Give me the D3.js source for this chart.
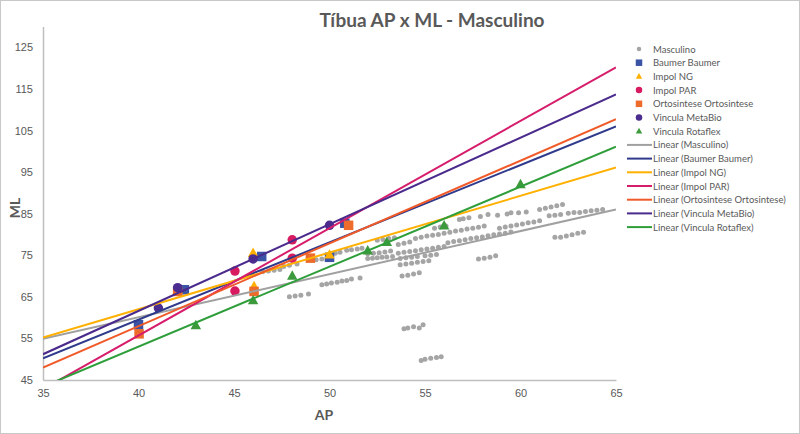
<!DOCTYPE html>
<html lang="pt">
<head>
<meta charset="UTF-8">
<title>Tíbua AP x ML - Masculino</title>
<style>
  body { margin: 0; background: #fff; }
  svg { display: block; font-family: Lato, "Open Sans", sans-serif; }
  .axis path { stroke: #bfbfbf; stroke-width: 1.5; }
  .axis text { fill: #595959; font-size: 11px; }
</style>
</head>
<body>
<div id="chart"></div>
<script src="https://d3js.org/d3.v7.min.js"></script>
<script>
// series names, in drawing order
const seriesNames = ['Masculino', 'Baumer Baumer', 'Impol NG', 'Impol PAR',
  'Ortosintese Ortosintese', 'Vincula MetaBio', 'Vincula Rotaflex'];

// Masculino (grey dots), [AP, ML]
const masculino = [
  [46.5,71.0],[46.8,71.2],[47.1,71.4],[47.4,71.6],
  [47.6,72.3],[47.9,72.6],[48.3,72.9],
  [47.9,65.0],[48.2,65.2],[48.5,65.4],[48.9,65.7],
  [49.3,73.9],[49.6,74.1],
  [49.6,67.9],[49.85,68.1],[50.1,68.3],[50.4,68.5],[50.65,68.8],[50.9,68.9],[51.15,69.3],[51.6,69.5],
  [50.3,75.5],[50.55,75.7],[50.9,76.2],[51.15,76.3],[51.45,76.5],[51.7,76.7],
  [52.0,74.2],[52.25,74.3],[52.5,74.4],[52.75,74.5],[53.0,74.6],[53.3,74.7],
  [52.0,75.3],[52.3,75.5],[52.6,75.6],[52.9,75.8],[53.2,76.0],
  [52.5,78.6],[52.8,78.8],[53.1,79.0],[53.4,79.2],
  [53.6,77.6],[53.9,77.9],[54.2,78.2],
  [53.7,72.7],[54.0,72.9],[54.3,73.1],[54.6,73.3],[54.9,73.5],[55.2,73.7],
  [53.8,70.0],[54.1,70.2],[54.4,70.5],[54.7,70.8],
  [53.9,57.3],[54.1,57.5],[54.4,57.8],[54.7,57.5],[54.9,58.3],
  [54.8,49.7],[55.0,50.0],[55.3,50.2],[55.6,50.4],[55.85,50.6],
  [53.6,75.5],[53.9,75.7],[54.2,75.9],[54.5,76.1],[54.8,76.3],[55.1,76.5],[55.4,76.7],[55.7,76.9],[56.0,77.1],
  [53.7,74.2],[54.0,74.4],[54.3,74.5],[54.6,74.7],[55.0,74.9],[55.3,75.0],[55.6,75.2],
  [54.5,79.0],[54.8,79.3],[55.1,79.6],[55.4,79.8],[55.7,80.0],[56.0,80.3],[56.3,80.5],[56.6,80.8],
  [56.9,81.0],[57.2,81.3],[57.5,81.5],[57.8,81.7],[58.1,82.0],
  [56.2,78.0],[56.5,78.3],[56.8,78.5],[57.1,78.7],[57.4,79.0],[57.7,79.2],[58.0,79.4],[58.3,79.7],
  [58.6,79.9],[58.9,80.1],[59.2,80.3],[59.5,80.6],
  [55.5,81.5],[55.8,81.8],[56.1,82.0],[56.8,83.6],[57.0,83.8],[57.3,84.0],[57.9,84.3],[58.3,84.8],
  [58.8,84.6],[59.3,84.9],[59.5,85.2],[59.9,85.2],[60.3,85.4],
  [58.9,81.5],[59.2,81.8],[59.5,82.0],[59.8,82.3],[60.1,82.5],[60.4,82.8],[60.7,83.0],[61.0,83.3],
  [57.8,74.1],[58.1,74.3],[58.4,74.5],[58.7,74.9],
  [61.0,86.0],[61.3,86.3],[61.6,86.6],[61.9,86.9],[62.2,87.2],
  [61.5,84.5],[61.8,84.6],[62.1,84.8],[62.5,85.1],[62.8,85.3],[63.1,85.3],[63.4,85.5],[63.7,85.7],[64.0,85.8],[64.3,86.0],
  [61.8,79.3],[62.1,79.3],[62.4,79.6],[62.7,79.9],[63.0,80.3],[63.3,80.5]
];
const baumer = [[40,58.3],[42.4,66.7],[46.45,74.7],[50,74.5],[50.8,82.7]];
const impolNG = [[42.05,66.5],[46,75.5],[46.05,67.5],[50,75.1]];
const impolPAR = [[45.05,71.2],[45.05,66.4],[48.05,78.7],[48.05,74.3]];
const ortosintese = [[40.03,56.1],[42.05,66.3],[46.05,66.3],[49,74.3],[51,82.2]];
const metaBio = [[41.04,62.3],[42.05,67.2],[46,74.1],[50,82.2]];
const rotaflex = [[43,58.1],[46,64.1],[48.05,70.0],[52,76.1],[53,78.1],[56,82.1],[60,92.0]];

// linear trendlines: ML at AP = 35 and at AP = 65
const trendAt35 = [54.9, 50.2, 55.2, 42.8, 48.0, 51.2, 43.4];
const trendAt65 = [86.0, 106.0, 96.1, 120.2, 107.7, 113.7, 101.1];

const xTicks = [35, 40, 45, 50, 55, 60, 65];
const yTicks = [45, 55, 65, 75, 85, 95, 105, 115, 125];

const markerColors = ['#a5a5a5', '#3a53a4', '#ffb000', '#d81b60', '#ed6b2b', '#4b2c8f', '#3c9a3c'];
const lineColors = ['#a0a0a0', '#2f3a8c', '#ffb000', '#d61d6b', '#f05a28', '#4a2a8c', '#2e9e3a'];
const shapes = ['circle', 'square', 'triangle', 'circle', 'square', 'circle', 'triangle'];
const allSeries = [masculino, baumer, impolNG, impolPAR, ortosintese, metaBio, rotaflex];

const W = 800, H = 434;
const svg = d3.select('#chart').append('svg').attr('width', W).attr('height', H);

svg.append('rect').attr('x', 0.5).attr('y', 0.5).attr('width', W - 1).attr('height', H - 1)
  .attr('fill', '#fff').attr('stroke', '#c8c8c8');

const x = d3.scaleLinear().domain([35, 65]).range([43, 616]);
const y = d3.scaleLinear().domain([45, 130]).range([380, 26.5]);

svg.append('text').attr('x', 432).attr('y', 27).attr('text-anchor', 'middle')
  .attr('fill', '#595959').attr('font-size', 19).attr('font-weight', 700)
  .text('Tíbua AP x ML - Masculino');

svg.append('defs').append('clipPath').attr('id', 'plot')
  .append('rect').attr('x', x(35)).attr('y', y(130))
  .attr('width', x(65) - x(35)).attr('height', y(45) - y(130));

svg.append('g').attr('class', 'axis')
  .attr('transform', `translate(0,${y(45)})`)
  .call(d3.axisBottom(x).tickValues(xTicks).tickSize(0).tickPadding(9));

svg.append('g').attr('class', 'axis')
  .attr('transform', `translate(${x(35)},0)`)
  .call(d3.axisLeft(y).tickValues(yTicks).tickSize(0).tickPadding(10));

svg.selectAll('.axis .domain').attr('stroke', '#bfbfbf');

svg.append('text').attr('x', 324).attr('y', 420).attr('text-anchor', 'middle')
  .attr('fill', '#595959').attr('font-size', 14).attr('font-weight', 700).text('AP');
svg.append('text').attr('transform', 'translate(20,208) rotate(-90)').attr('text-anchor', 'middle')
  .attr('fill', '#595959').attr('font-size', 14).attr('font-weight', 700).text('ML');

function drawMarker(g, shape, color, size, cx, cy) {
  if (shape === 'circle') {
    g.append('circle').attr('cx', cx).attr('cy', cy).attr('r', size / 2).attr('fill', color);
  } else if (shape === 'square') {
    g.append('rect').attr('x', cx - size / 2).attr('y', cy - size / 2)
      .attr('width', size).attr('height', size).attr('fill', color);
  } else {
    const h = size * 0.9;
    g.append('path')
      .attr('d', `M${cx},${cy - h * 0.6}L${cx + size / 2},${cy + h * 0.4}L${cx - size / 2},${cy + h * 0.4}Z`)
      .attr('fill', color);
  }
}

const plot = svg.append('g').attr('clip-path', 'url(#plot)');

// markers
allSeries.forEach((data, i) => {
  const g = plot.append('g');
  const size = i === 0 ? 5 : 9.5;
  data.forEach(d => drawMarker(g, shapes[i], markerColors[i], i === 2 || i === 6 ? 10.5 : size, x(d[0]), y(d[1])));
});

// trendlines
const line = d3.line().x(d => x(d[0])).y(d => y(d[1]));
seriesNames.forEach((name, i) => {
  plot.append('path')
    .attr('d', line([[35, trendAt35[i]], [65, trendAt65[i]]]))
    .attr('fill', 'none').attr('stroke', lineColors[i]).attr('stroke-width', 2);
});

// legend
const legend = svg.append('g').attr('font-size', 9.5).attr('fill', '#595959');
const rowH = 13.7;
seriesNames.forEach((name, i) => {
  const cy = 49 + i * rowH;
  drawMarker(legend, shapes[i], markerColors[i], i === 0 ? 4.5 : 6.5, 639, cy);
  legend.append('text').attr('x', 653).attr('y', cy + 3.5).text(name);
});
seriesNames.forEach((name, i) => {
  const cy = 49 + (i + 7) * rowH;
  legend.append('line').attr('x1', 627).attr('x2', 652).attr('y1', cy).attr('y2', cy)
    .attr('stroke', lineColors[i]).attr('stroke-width', 2);
  legend.append('text').attr('x', 653).attr('y', cy + 3.5).text(`Linear (${name})`);
});
</script>
</body>
</html>
